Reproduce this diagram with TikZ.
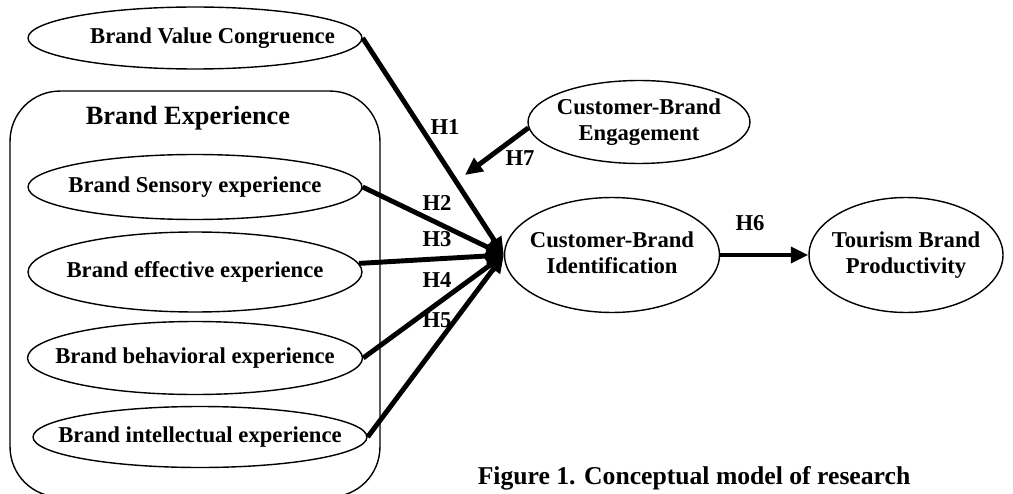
\documentclass[tikz,border=0pt]{standalone}
\usepackage{fontspec}
\setmainfont{Liberation Serif}
\usepackage{tikz}
\usetikzlibrary{arrows.meta, shapes.geometric}

% text of a construct, kept out of the ellipse size
\newcommand{\ctext}[1]{\makebox[0pt]{\begin{tabular}{@{}c@{}}#1\end{tabular}}}

\begin{document}
\begin{tikzpicture}[x=0.02cm, y=-0.02cm, >={Triangle[length=10pt, width=9pt]},
    every node/.style={font=\fontsize{12.9}{14.8}\selectfont\bfseries},
    construct/.style={ellipse, draw, line width=0.8pt, inner sep=0pt},
    hyp/.style={->, line width=2.8pt}]

    \useasboundingbox (0,0) rectangle (1013,493);

    % -------------------------------------------------------
    % 1. Brand experience block
    % -------------------------------------------------------
    \node[draw, line width=0.8pt, rounded corners=1cm,
          minimum width=7.4cm, minimum height=8.12cm] (bexp) at (195,294) {};
    \node[font=\fontsize{15}{17}\selectfont\bfseries] (bexptitle) at (188,118) {Brand Experience};

    % -------------------------------------------------------
    % 2. Constructs
    % -------------------------------------------------------
    \node[construct, minimum width=6.68cm, minimum height=1.24cm] (bvc) at (195,38)
        {\ctext{\hspace{0.7cm}Brand Value Congruence}};
    \node[construct, minimum width=6.68cm, minimum height=1.3cm] (sens) at (195,187)
        {\ctext{Brand Sensory experience}};
    \node[construct, minimum width=6.68cm, minimum height=1.6cm] (eff) at (195,272)
        {\ctext{Brand effective experience}};
    \node[construct, minimum width=6.7cm, minimum height=1.46cm] (beh) at (195,358)
        {\ctext{Brand behavioral experience}};
    \node[construct, minimum width=6.68cm, minimum height=1.22cm] (intel) at (200,437)
        {\ctext{Brand intellectual experience}};

    \node[construct, minimum width=4.44cm, minimum height=1.66cm] (cbe) at (639,122)
        {\ctext{Customer-Brand\\Engagement}};
    \node[construct, minimum width=4.3cm, minimum height=2.3cm] (cbi) at (612,255)
        {\ctext{Customer-Brand\\Identification}};
    \node[construct, minimum width=3.88cm, minimum height=2.3cm] (tbp) at (906,255)
        {\ctext{Tourism Brand\\Productivity}};

    % -------------------------------------------------------
    % 3. Hypotheses
    % -------------------------------------------------------
    \coordinate (h7end) at (465,175);

    \draw[hyp] (bvc.east) -- (cbi.west);
    \draw[hyp] (sens.east) -- (cbi.west);
    \draw[hyp] (eff.3) -- (cbi.west);
    \draw[hyp] (beh.east) -- (cbi.west);
    \draw[hyp] (intel.east) -- (cbi.west);
    \draw[hyp] (cbe.183) -- (h7end);
    \draw[hyp] (cbi.east) -- (tbp.west);

    \node (h1) at (445,127) {H1};
    \node (h2) at (437,203) {H2};
    \node (h3) at (437,239) {H3};
    \node (h4) at (437,280) {H4};
    \node (h5) at (437,320) {H5};
    \node (h6) at (750,223) {H6};
    \node (h7) at (520,158) {H7};

    % caption
    \node[font=\fontsize{14.6}{17}\selectfont\bfseries] (caption) at (694,478)
        {Figure 1. Conceptual model of research};
\end{tikzpicture}
\end{document}
